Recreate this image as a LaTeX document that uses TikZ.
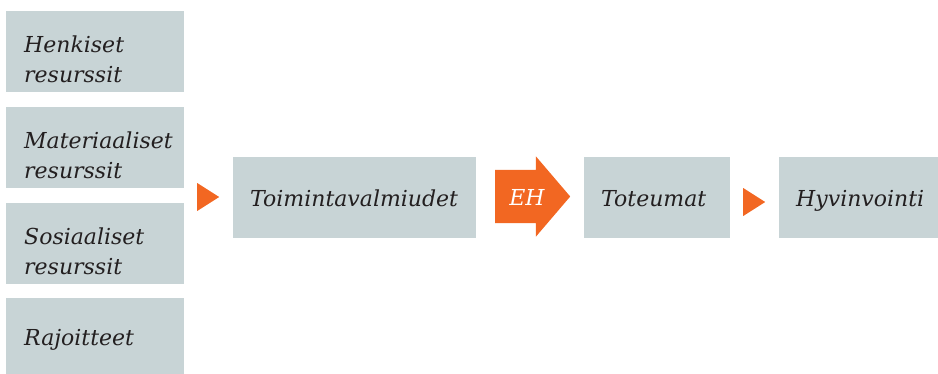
\documentclass[tikz,border=0pt]{standalone}
\usepackage{fontspec}
\setmainfont{DejaVu Serif}
\usetikzlibrary{shapes.geometric,shapes.arrows}
\definecolor{boxgrey}{HTML}{C8D4D6}
\definecolor{ehorange}{HTML}{F26722}
\definecolor{textdark}{HTML}{231F20}

\begin{document}
\begin{tikzpicture}[x=1pt, y=-1pt,
    every node/.style={font=\fontsize{22}{30}\selectfont\itshape, text=textdark},
    resbox/.style={fill=boxgrey, anchor=north west, minimum width=178pt, minimum height=81pt,
        text width=142pt, inner xsep=18pt, inner ysep=0pt, align=left,
        text height=18pt, text depth=17pt},
    stagebox/.style={fill=boxgrey, anchor=north west, minimum height=81pt,
        inner xsep=17pt, inner ysep=0pt, align=left, text height=18pt, text depth=0pt},
    tip/.style={isosceles triangle, isosceles triangle stretches, fill=ehorange,
        minimum width=28pt, minimum height=22pt, inner sep=0pt, anchor=west}]
        \useasboundingbox (0,0) rectangle (938,373);
        % Draw the resource boxes on the left
        \foreach \name/\y/\txt in {henk/11/{Henkiset\\resurssit}, mat/107/{Materiaaliset\\resurssit},
                                   sos/203/{Sosiaaliset\\resurssit}} {
            \node[resbox] (\name) at (6, \y) {\txt};
        }
        \node[resbox, text depth=5pt] (raj) at (6, 298) {Rajoitteet};
        % Draw the stages of the chain
        \node[stagebox, minimum width=243pt, text width=209pt] (toim) at (233, 157) {Toimintavalmiudet};
        \node[stagebox, minimum width=146pt, text width=112pt] (tot) at (584, 157) {Toteumat};
        \node[stagebox, minimum width=166pt, text width=132pt] (hyv) at (779, 157) {Hyvinvointi};
        % Draw the arrows between them
        \node[tip] (a1) at (197, 197) {};
        \node[single arrow, fill=ehorange, anchor=tail, minimum height=75pt,
            minimum width=80pt, single arrow head extend=13.5pt, single arrow tip angle=99,
            text height=15pt, text depth=0pt, inner ysep=19pt, inner xsep=0pt] (eh) at (495, 196.5) {};
        \node[text=white] (ehlabel) at (527, 197) {EH};
        \node[tip] (a2) at (743, 202) {};
    \end{tikzpicture}
\end{document}
